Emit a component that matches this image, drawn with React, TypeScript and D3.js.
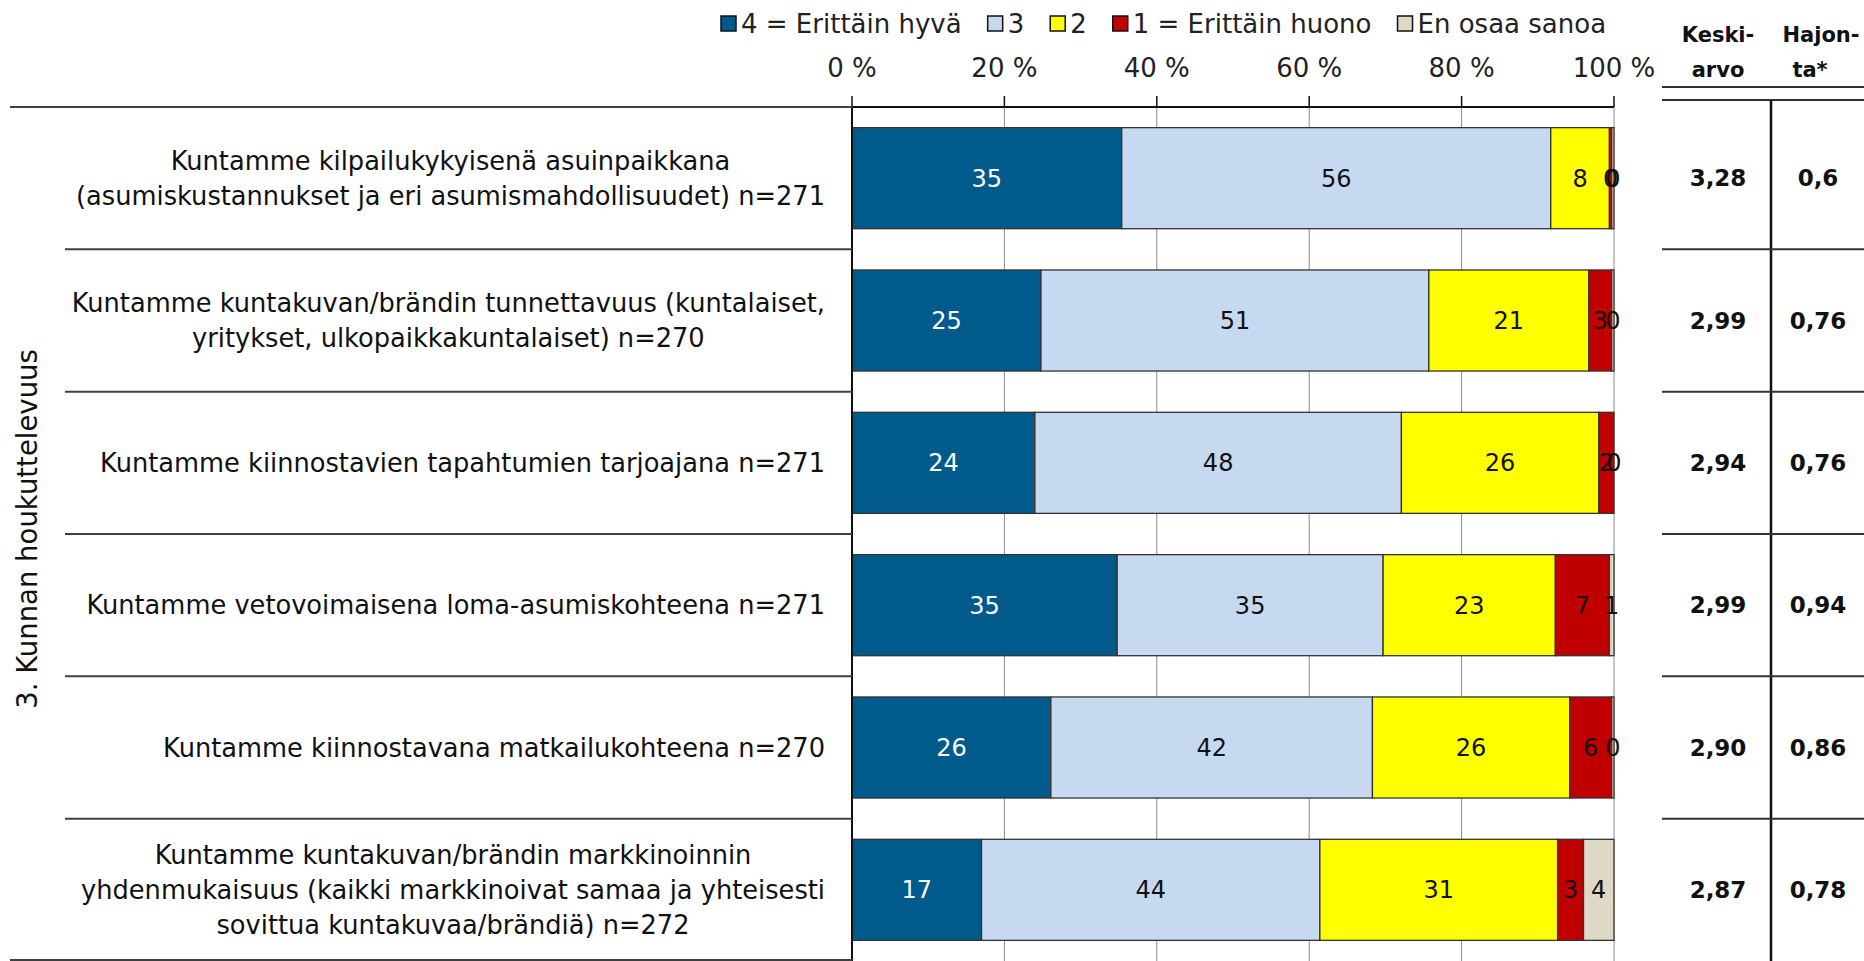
import React, { useEffect, useRef } from "react";
import * as d3 from "d3";

// kysymykset (rivit)
const categories = [
  ["Kuntamme kilpailukykyisenä asuinpaikkana", "(asumiskustannukset ja eri asumismahdollisuudet) n=271"],
  ["Kuntamme kuntakuvan/brändin tunnettavuus (kuntalaiset,", "yritykset, ulkopaikkakuntalaiset) n=270"],
  ["Kuntamme kiinnostavien tapahtumien tarjoajana n=271"],
  ["Kuntamme vetovoimaisena loma-asumiskohteena n=271"],
  ["Kuntamme kiinnostavana matkailukohteena n=270"],
  [
    "Kuntamme kuntakuvan/brändin markkinoinnin",
    "yhdenmukaisuus (kaikki markkinoivat samaa ja yhteisesti",
    "sovittua kuntakuvaa/brändiä) n=272",
  ],
];

const seriesNames = ["4 = Erittäin hyvä", "3", "2", "1 = Erittäin huono", "En osaa sanoa"];
const seriesColors = ["#005A8C", "#C6D9F1", "#FFFF00", "#C00000", "#DDD9C4"];

// osuudet % (luettu kuvasta)
const erittainHyva = [35.4, 24.8, 24.0, 34.8, 26.1, 17.0];
const kolme = [56.3, 50.9, 48.1, 34.9, 42.2, 44.4];
const kaksi = [7.7, 21.0, 25.9, 22.6, 25.9, 31.2];
const erittainHuono = [0.3, 3.0, 2.0, 7.1, 5.5, 3.4];
const eos = [0.3, 0.3, 0.0, 0.6, 0.3, 4.0];

const keskiarvo = ["3,28", "2,99", "2,94", "2,99", "2,90", "2,87"];
const hajonta = ["0,6", "0,76", "0,76", "0,94", "0,86", "0,78"];

const tickValues = [0, 20, 40, 60, 80, 100];
const groupTitle = "3. Kunnan houkuttelevuus";

const W = 1864;
const H = 961;
const font = "'DejaVu Sans', Verdana, sans-serif";

const App = () => {
  const ref = useRef(null);

  useEffect(() => {
    const svg = d3.select(ref.current);
    svg.selectAll("*").remove();

    const x = d3.scaleLinear().domain([0, 100]).range([852, 1614]);
    const y = d3
      .scaleBand()
      .domain(d3.range(categories.length))
      .range([107, H])
      .paddingInner(0.29)
      .paddingOuter(0.145);
    const step = y.step();
    const rowTop = (i) => y(i) - (step * 0.29) / 2;

    const table = categories.map((c, i) => ({
      i,
      vals: [erittainHyva[i], kolme[i], kaksi[i], erittainHuono[i], eos[i]],
    }));

    // gridlines
    const grid = svg.append("g");
    grid
      .selectAll("line")
      .data(tickValues.slice(1))
      .join("line")
      .attr("x1", (d) => x(d))
      .attr("x2", (d) => x(d))
      .attr("y1", 107)
      .attr("y2", H)
      .attr("stroke", "#8c8c8c")
      .attr("stroke-width", 1);

    // bars
    const rows = svg
      .selectAll("g.row")
      .data(table)
      .join("g")
      .attr("class", "row");

    rows.each(function (row) {
      const g = d3.select(this);
      let acc = 0;
      const segs = row.vals.map((v, k) => {
        const s = { k, v, x0: acc, x1: acc + v };
        acc += v;
        return s;
      });
      g.selectAll("rect")
        .data(segs)
        .join("rect")
        .attr("x", (d) => x(d.x0))
        .attr("y", y(row.i))
        .attr("width", (d) => Math.max(0, x(d.x1) - x(d.x0)))
        .attr("height", y.bandwidth())
        .attr("fill", (d) => seriesColors[d.k])
        .attr("stroke", "#333")
        .attr("stroke-width", 1.3);
      g.selectAll("text")
        .data(segs)
        .join("text")
        .attr("x", (d) => (x(d.x0) + x(d.x1)) / 2)
        .attr("y", y(row.i) + y.bandwidth() / 2)
        .attr("dy", "0.36em")
        .attr("text-anchor", "middle")
        .attr("font-family", font)
        .attr("font-size", 24)
        .attr("fill", (d) => (d.k === 0 ? "#fff" : "#111"))
        .text((d) => Math.round(d.v));
    });

    // axis (top)
    svg
      .append("line")
      .attr("x1", x(0))
      .attr("x2", x(100))
      .attr("y1", 107)
      .attr("y2", 107)
      .attr("stroke", "#111")
      .attr("stroke-width", 2);
    svg
      .append("line")
      .attr("x1", x(0))
      .attr("x2", x(0))
      .attr("y1", 107)
      .attr("y2", H)
      .attr("stroke", "#111")
      .attr("stroke-width", 2);
    const ticks = svg.append("g");
    ticks
      .selectAll("line")
      .data(tickValues)
      .join("line")
      .attr("x1", (d) => x(d))
      .attr("x2", (d) => x(d))
      .attr("y1", 96)
      .attr("y2", 107)
      .attr("stroke", "#111")
      .attr("stroke-width", 1.5);
    ticks
      .selectAll("text")
      .data(tickValues)
      .join("text")
      .attr("x", (d) => x(d))
      .attr("y", 68)
      .attr("dy", "0.36em")
      .attr("text-anchor", "middle")
      .attr("font-family", font)
      .attr("font-size", 26)
      .attr("fill", "#222")
      .text((d) => d + " %");

    // category separators
    svg
      .selectAll("line.sep")
      .data(d3.range(categories.length + 1))
      .join("line")
      .attr("class", "sep")
      .attr("x1", (d) => (d === 0 || d === categories.length ? 10 : 65))
      .attr("x2", x(0))
      .attr("y1", (d) => (d === categories.length ? H - 1 : rowTop(d)))
      .attr("y2", (d) => (d === categories.length ? H - 1 : rowTop(d)))
      .attr("stroke", "#404040")
      .attr("stroke-width", 2);

    // category labels: block right-aligned, lines centered
    const labelRight = 825;
    const lineH = 35;
    categories.forEach((lines, i) => {
      const g = svg.append("g");
      const cy = y(i) + y.bandwidth() / 2;
      const texts = g
        .selectAll("text")
        .data(lines)
        .join("text")
        .attr("y", (d, j) => cy + (j - (lines.length - 1) / 2) * lineH)
        .attr("dy", "0.36em")
        .attr("text-anchor", "middle")
        .attr("font-family", font)
        .attr("font-size", 25.7)
        .attr("fill", "#111")
        .text((d) => d);
      let maxW = 0;
      texts.each(function () {
        maxW = Math.max(maxW, this.getComputedTextLength());
      });
      texts.attr("x", labelRight - maxW / 2);
    });

    // group title (vertical)
    svg
      .append("text")
      .attr("transform", `translate(27, 529) rotate(-90)`)
      .attr("dy", "0.36em")
      .attr("text-anchor", "middle")
      .attr("font-family", font)
      .attr("font-size", 27.5)
      .attr("fill", "#111")
      .text(groupTitle);

    // legend
    const legend = svg.append("g").attr("transform", "translate(721, 24)");
    let lx = 0;
    seriesNames.forEach((name, k) => {
      legend
        .append("rect")
        .attr("x", lx)
        .attr("y", -8)
        .attr("width", 15)
        .attr("height", 15)
        .attr("fill", seriesColors[k])
        .attr("stroke", "#111")
        .attr("stroke-width", 1.5);
      const t = legend
        .append("text")
        .attr("x", lx + 20)
        .attr("y", 0)
        .attr("dy", "0.36em")
        .attr("font-family", font)
        .attr("font-size", 26)
        .attr("fill", "#222")
        .text(name);
      lx += 20 + t.node().getComputedTextLength() + 26;
    });

    // right table
    const tx0 = 1662;
    const colMid = 1771;
    const meanX = 1718;
    const sdX = 1818;
    const hdr = svg.append("g").attr("font-family", font).attr("font-weight", "bold").attr("font-size", 21).attr("fill", "#111").attr("text-anchor", "middle");
    hdr.append("text").attr("x", meanX).attr("y", 34).attr("dy", "0.36em").text("Keski-");
    hdr.append("text").attr("x", meanX).attr("y", 69).attr("dy", "0.36em").text("arvo");
    hdr.append("text").attr("x", sdX + 3).attr("y", 34).attr("dy", "0.36em").text("Hajon-");
    hdr.append("text").attr("x", sdX - 8).attr("y", 69).attr("dy", "0.36em").text("ta*");

    [87, 100].forEach((yy) =>
      svg.append("line").attr("x1", tx0).attr("x2", W).attr("y1", yy).attr("y2", yy).attr("stroke", "#333").attr("stroke-width", 2)
    );
    svg.append("line").attr("x1", colMid).attr("x2", colMid).attr("y1", 100).attr("y2", H).attr("stroke", "#111").attr("stroke-width", 2.5);
    svg
      .selectAll("line.tsep")
      .data(d3.range(1, categories.length))
      .join("line")
      .attr("class", "tsep")
      .attr("x1", tx0)
      .attr("x2", W)
      .attr("y1", (d) => rowTop(d))
      .attr("y2", (d) => rowTop(d))
      .attr("stroke", "#333")
      .attr("stroke-width", 2);

    const vals = svg.append("g").attr("font-family", font).attr("font-weight", "bold").attr("font-size", 23).attr("fill", "#111").attr("text-anchor", "middle");
    vals
      .selectAll("text.mean")
      .data(keskiarvo)
      .join("text")
      .attr("class", "mean")
      .attr("x", meanX)
      .attr("y", (d, i) => y(i) + y.bandwidth() / 2)
      .attr("dy", "0.36em")
      .text((d) => d);
    vals
      .selectAll("text.sd")
      .data(hajonta)
      .join("text")
      .attr("class", "sd")
      .attr("x", sdX)
      .attr("y", (d, i) => y(i) + y.bandwidth() / 2)
      .attr("dy", "0.36em")
      .text((d) => d);
  }, []);

  return (
    <svg
      ref={ref}
      width={W}
      height={H}
      style={{ position: "absolute", left: 0, top: 0, background: "#fff" }}
    ></svg>
  );
};

export default App;
